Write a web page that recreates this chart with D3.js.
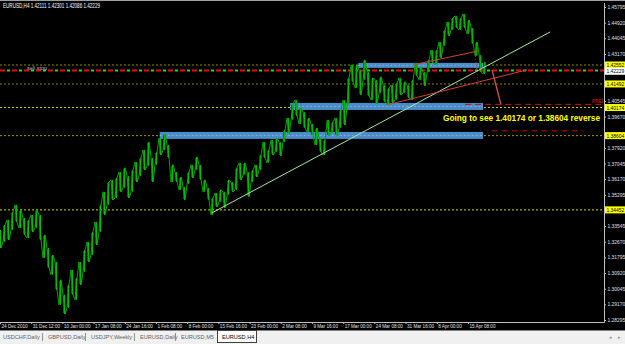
<!DOCTYPE html>
<html><head><meta charset="utf-8">
<script src="https://cdn.jsdelivr.net/npm/d3@7"></script>
<style>body{margin:0;background:#000;overflow:hidden}svg{display:block}</style>
</head><body>
<script>
// ---------- DATA ----------
const dateLabels = ["24 Dec 2010","31 Dec 12:00","10 Jan 00:00","17 Jan 08:00","24 Jan 16:00","1 Feb 08:00","8 Feb 00:00","15 Feb 16:00","23 Feb 00:00","2 Mar 08:00","9 Mar 16:00","17 Mar 00:00","24 Mar 08:00","31 Mar 16:00","8 Apr 00:00","15 Apr 08:00"];
const dateLabelBars = [0,33,66,99,132,165,198,231,264,297,330,363,396,429,462,495];
const priceTicks = [1.45795,1.44920,1.44045,1.43170,1.40545,1.39670,1.37920,1.37045,1.36170,1.35295,1.33545,1.32670,1.31795,1.30920,1.30045,1.29170,1.28295];
// sampled H4 highs / lows (one sample every ~4 bars)
const high = [1.3333,1.3361,1.3389,1.3434,1.3473,1.3445,1.3400,1.3389,1.3417,1.3445,1.3417,1.3305,1.3232,1.3193,1.3154,1.3054,1.2971,1.3026,1.3109,1.3065,1.3154,1.3221,1.3266,1.3322,1.3378,1.3473,1.3546,1.3601,1.3613,1.3624,1.3657,1.3680,1.3635,1.3668,1.3713,1.3736,1.3780,1.3825,1.3736,1.3769,1.3847,1.3870,1.3808,1.3697,1.3657,1.3629,1.3574,1.3657,1.3697,1.3741,1.3697,1.3613,1.3568,1.3512,1.3540,1.3557,1.3546,1.3613,1.3601,1.3680,1.3708,1.3708,1.3657,1.3668,1.3697,1.3752,1.3825,1.3780,1.3836,1.3847,1.3825,1.3892,1.3959,1.4038,1.4060,1.4015,1.3993,1.3959,1.3926,1.3903,1.3847,1.3836,1.3948,1.3937,1.3959,1.4004,1.4060,1.4183,1.4256,1.4256,1.4228,1.4284,1.4216,1.4183,1.4172,1.4189,1.4144,1.4127,1.4144,1.4155,1.4183,1.4161,1.4144,1.4172,1.4267,1.4244,1.4216,1.4284,1.4339,1.4339,1.4384,1.4451,1.4496,1.4518,1.4530,1.4518,1.4541,1.4507,1.4462,1.4384,1.4312,1.4272];
const low = [1.3232,1.3266,1.3277,1.3333,1.3378,1.3344,1.3305,1.3288,1.3322,1.3344,1.3277,1.3177,1.3121,1.3082,1.2998,1.2914,1.2863,1.2897,1.2971,1.2942,1.3026,1.3098,1.3154,1.3193,1.3249,1.3322,1.3417,1.3473,1.3501,1.3512,1.3546,1.3568,1.3512,1.3546,1.3601,1.3635,1.3668,1.3691,1.3601,1.3697,1.3752,1.3780,1.3736,1.3601,1.3601,1.3557,1.3501,1.3590,1.3624,1.3668,1.3613,1.3546,1.3501,1.3417,1.3462,1.3490,1.3456,1.3529,1.3546,1.3557,1.3613,1.3641,1.3518,1.3601,1.3629,1.3668,1.3736,1.3708,1.3752,1.3769,1.3747,1.3825,1.3870,1.3948,1.3970,1.3926,1.3903,1.3881,1.3859,1.3808,1.3769,1.3752,1.3859,1.3881,1.3859,1.3903,1.3920,1.4032,1.4161,1.4127,1.4088,1.4172,1.4082,1.4060,1.4038,1.4099,1.4049,1.4032,1.4043,1.4060,1.4088,1.4099,1.4071,1.4060,1.4194,1.4172,1.4138,1.4216,1.4267,1.4256,1.4295,1.4362,1.4418,1.4451,1.4462,1.4451,1.4462,1.4429,1.4373,1.4306,1.4216,1.4205];
const barsPerSample = 4.233;
// horizontal levels
const olivePrices = [1.42552, 1.41492];
const yellowPrices = [1.40174, 1.38604, 1.34452];
const dashDotPrice = 1.42240;
const bidPrice = 1.42229;
const axisMarkLabels = ["1.42552","1.41492","1.40174","1.38604","1.34452"];
const axisMarkPrices = [1.42552,1.41492,1.40174,1.38604,1.34452];
// zones (start bar, end bar, top price, bottom price)
const zoneStart = [379, 307, 169];
const zoneEnd = [511, 511, 511];
const zoneTop = [1.4267, 1.4043, 1.3881];
const zoneBottom = [1.4239, 1.4004, 1.3842];
// trend lines: [bar1, price1, bar2, price2]
const greenTrend = [224, 1.3428, 582, 1.4440];
const redUpper = [437, 1.4256, 506, 1.4334];
const redLower = [409.5, 1.4032, 557.5, 1.4228];
const redDotted = [502.6, 1.4323, 505.7, 1.4149];
const redArrow = [520.5, 1.4228, 530, 1.4032];
const redDash1 = [492, 1.4035, 640, 1.4035];
const redDash2 = [520, 1.3887, 617, 1.3887];
const headerText = "EURUSD,H4  1.42111 1.42301 1.42086 1.42229";
const noteText = "Going to see 1.40174 or 1.38604 reverse";
const tabs = ["USDCHF,Daily","GBPUSD,Daily","USDJPY,Weekly","EURUSD,Daily","EURUSD,M5","EURUSD,H4"];

// ---------- DRAW ----------
const W = 625, H = 344;
const svg = d3.select("body").append("svg").attr("width", W).attr("height", H);
svg.append("rect").attr("width", W).attr("height", H).attr("fill", "#000");

const x = d3.scaleLinear().domain([0, 640]).range([0, 605]);
const y = d3.scaleLinear().domain([1.28295, 1.45795]).range([320, 7]);
const plotR = 604;
const font = "'Liberation Sans', Arial, sans-serif";

const g = svg.append("g");
olivePrices.forEach(p => g.append("line").attr("x1", 0).attr("x2", plotR).attr("y1", y(p)).attr("y2", y(p))
  .attr("stroke", "#8a8a00").attr("stroke-width", 1).attr("stroke-dasharray", "2,2"));
yellowPrices.forEach((p, i) => g.append("line").attr("x1", 0).attr("x2", plotR).attr("y1", y(p)).attr("y2", y(p))
  .attr("stroke", i === 1 ? "#9a9a00" : "#d8d800").attr("stroke-width", 1).attr("stroke-dasharray", "2,2"));
g.append("line").attr("x1", 0).attr("x2", plotR).attr("y1", y(dashDotPrice)).attr("y2", y(dashDotPrice))
  .attr("stroke", "#e01010").attr("stroke-width", 2).attr("stroke-dasharray", "5,7");
g.append("line").attr("x1", 0).attr("x2", plotR).attr("y1", y(dashDotPrice)).attr("y2", y(dashDotPrice))
  .attr("stroke", "#20e020").attr("stroke-width", 2).attr("stroke-dasharray", "3,9").attr("stroke-dashoffset", -7);
g.append("text").attr("x", 27).attr("y", y(dashDotPrice) - 0.5).attr("fill", "#b0b0b0")
  .attr("font-family", font).attr("font-size", 5.5).text("sell stop");

// zones
zoneStart.forEach((s, i) => {
  g.append("rect").attr("x", x(s)).attr("width", x(zoneEnd[i]) - x(s))
    .attr("y", y(zoneTop[i])).attr("height", y(zoneBottom[i]) - y(zoneTop[i]))
    .attr("fill", "#4a8cc8");
  g.append("line").attr("x1", x(s)).attr("x2", x(zoneEnd[i]))
    .attr("y1", (y(zoneTop[i]) + y(zoneBottom[i])) / 2).attr("y2", (y(zoneTop[i]) + y(zoneBottom[i])) / 2)
    .attr("stroke", "#7fb0de").attr("stroke-width", 1).attr("stroke-dasharray", "2,2");
});

// price series: jagged bar strokes
const idx = d3.range(high.length);
const px = i => x(i * barsPerSample);
const series = g.append("g");
const zig = [];
idx.forEach(i => {
  if (i % 2 === 0) { zig.push([px(i) - 1, y(high[i])]); zig.push([px(i) + 1, y(low[i])]); }
  else { zig.push([px(i) - 1, y(low[i])]); zig.push([px(i) + 1, y(high[i])]); }
});
idx.forEach(i => {
  series.append("rect").attr("x", px(i) - 1).attr("width", 2.2)
    .attr("y", y(high[i]) + 1).attr("height", Math.max(1, y(low[i]) - y(high[i]) - 2))
    .attr("fill", "#007000");
});
series.append("path").attr("d", d3.line()(zig)).attr("fill", "none").attr("stroke", "#00a800").attr("stroke-width", 1);
idx.forEach(i => {
  series.append("line").attr("x1", px(i) + 0.5).attr("x2", px(i) + 0.5).attr("y1", y(high[i])).attr("y2", y(low[i]))
    .attr("stroke", "#00c000").attr("stroke-width", 1);
});

// trend lines
function seg(a, color, w, dash) {
  const l = g.append("line").attr("x1", x(a[0])).attr("y1", y(a[1])).attr("x2", x(a[2])).attr("y2", y(a[3]))
    .attr("stroke", color).attr("stroke-width", w);
  if (dash) l.attr("stroke-dasharray", dash);
}
seg(greenTrend, "#a8e8a0", 1);
seg(redUpper, "#d04040", 1);
seg(redLower, "#d04040", 1);
seg(redDotted, "#e02020", 1, "1,2");
seg(redArrow, "#e05050", 1.3);
seg(redDash1, "#c01010", 1, "6,4");
seg(redDash2, "#c01010", 1, "6,4");
g.append("text").attr("x", 592).attr("y", y(1.4035) - 1).attr("fill", "#e02020")
  .attr("font-family", font).attr("font-size", 4.8).text("PREI");

// note
g.append("text").attr("x", 443).attr("y", 121).attr("fill", "#ffff00").attr("font-family", font)
  .attr("font-weight", "bold").attr("font-size", 9.6).attr("textLength", 157).attr("lengthAdjust", "spacingAndGlyphs")
  .text(noteText);

// header
svg.append("text").attr("x", 3).attr("y", 8).attr("fill", "#fff").attr("font-family", font)
  .attr("font-size", 6.5).attr("textLength", 97).attr("lengthAdjust", "spacingAndGlyphs").text(headerText);
svg.append("line").attr("x1", 0).attr("x2", W).attr("y1", 0.5).attr("y2", 0.5).attr("stroke", "#a0a0a0");

// right axis
const ay = svg.append("g").attr("transform", `translate(${plotR},0)`)
  .call(d3.axisRight(y).tickValues(priceTicks).tickSize(2).tickFormat(d3.format(".5f")));
ay.select(".domain").attr("stroke", "#c0c0c0").attr("d", "M0.5,3V322.5");
ay.selectAll(".tick line").attr("stroke", "#c0c0c0");
ay.selectAll(".tick text").attr("fill", "#e0e0e0").attr("font-size", 4.9).attr("font-family", font).attr("x", 3.5);

// highlighted axis labels
axisMarkPrices.forEach((p, i) => {
  svg.append("rect").attr("x", plotR + 1).attr("y", y(p) - 3.5).attr("width", 20).attr("height", 7).attr("fill", "#ffff00");
  svg.append("text").attr("x", plotR + 2.5).attr("y", y(p) + 2).attr("fill", "#000").attr("font-family", font)
    .attr("font-size", 4.9).text(axisMarkLabels[i]);
});
svg.append("rect").attr("x", plotR + 1).attr("y", y(bidPrice) - 3).attr("width", 20).attr("height", 7).attr("fill", "#ffffff");
svg.append("text").attr("x", plotR + 2.5).attr("y", y(bidPrice) + 2.5).attr("fill", "#000").attr("font-family", font)
  .attr("font-size", 4.9).text(d3.format(".5f")(bidPrice));

// bottom axis
const ax = svg.append("g").attr("transform", "translate(0,322)")
  .call(d3.axisBottom(x).tickValues(dateLabelBars).tickSize(2).tickFormat((d, i) => dateLabels[i]));
ax.select(".domain").attr("stroke", "#c0c0c0").attr("d", "M0,0.5H604.5");
ax.selectAll(".tick line").attr("stroke", "#c0c0c0");
ax.selectAll(".tick text").attr("fill", "#e0e0e0").attr("font-size", 4.6).attr("font-family", font)
  .attr("text-anchor", "start").attr("dx", 1).attr("y", 3).attr("dy", "0.6em");

// tab bar
svg.append("rect").attr("x", 0).attr("y", 330).attr("width", W).attr("height", 14).attr("fill", "#f0f0f0");
svg.append("line").attr("x1", 0).attr("x2", W).attr("y1", 330.5).attr("y2", 330.5).attr("stroke", "#808080");
const tabX = [3, 48, 91, 140, 181, 222];
svg.append("rect").attr("x", 217.5).attr("y", 330.5).attr("width", 39).attr("height", 12).attr("fill", "#fff").attr("stroke", "#404040");
tabs.forEach((t, i) => {
  svg.append("text").attr("x", tabX[i]).attr("y", 339).attr("fill", i === 5 ? "#000" : "#606060")
    .attr("font-family", font).attr("font-size", 5.6).text(t);
  if (i < 4) svg.append("line").attr("x1", tabX[i + 1] - 5.5).attr("x2", tabX[i + 1] - 5.5).attr("y1", 333).attr("y2", 341).attr("stroke", "#909090");
});
svg.append("text").attr("x", 609).attr("y", 339).attr("fill", "#909090").attr("font-size", 5).attr("font-family", font).text("◂");
svg.append("text").attr("x", 618).attr("y", 339).attr("fill", "#909090").attr("font-size", 5).attr("font-family", font).text("▸");
</script>
</body></html>
